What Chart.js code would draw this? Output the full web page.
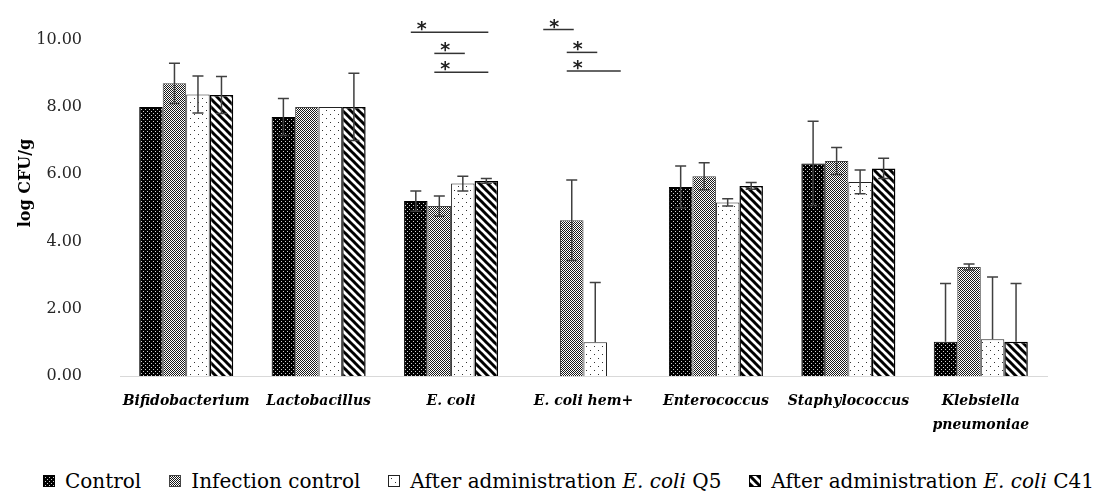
<!DOCTYPE html>
<html>
<head>
<meta charset="utf-8">
<script src="https://cdn.jsdelivr.net/npm/chart.js@4.4.0/dist/chart.umd.min.js"></script>
<style>
  body { margin: 0; background: #fff; }
  #wrap { position: relative; width: 1094px; height: 492px; overflow: hidden; }
  #chart-box { position: absolute; left: 0; top: 0; width: 1094px; height: 445px; }
  #legend { position: absolute; left: 43px; top: 470px; display: flex; align-items: center;
            font: 20px 'DejaVu Serif', serif; line-height: 22px; color: #000; white-space: nowrap; }
  .item { display: flex; align-items: center; margin-right: 28px; }
  .swatch { width: 12px; height: 12px; box-sizing: border-box; border: 1px solid #222; margin-right: 10px; }
</style>
</head>
<body>
<div id="wrap">
  <div id="chart-box"><canvas id="barChart"></canvas></div>
  <div id="legend"></div>
</div>
<script>
// Data (log CFU/g)
const categories = ['Bifidobacterium', 'Lactobacillus', 'E. coli', 'E. coli hem+', 'Enterococcus', 'Staphylococcus', ['Klebsiella', 'pneumoniae']];
const seriesNames = ['Control', 'Infection control', 'After administration E. coli Q5', 'After administration E. coli C41'];

const controlValues   = [8.00, 7.70, 5.20, 0,    5.62, 6.32, 1.02];
const infectionValues = [8.70, 8.00, 5.05, 4.63, 5.94, 6.39, 3.24];
const q5Values        = [8.37, 8.00, 5.72, 1.00, 5.16, 5.77, 1.09];
const c41Values       = [8.35, 8.00, 5.80, 0,    5.65, 6.17, 1.02];

const controlErr   = [0,    0.55, 0.30, 0,    0.62, 1.25, 1.73];
const infectionErr = [0.60, 0,    0.30, 1.20, 0.40, 0.40, 0.09];
const q5Err        = [0.55, 0,    0.22, 1.78, 0.11, 0.35, 1.85];
const c41Err       = [0.55, 1.00, 0.07, 0,    0.10, 0.30, 1.73];

const yTicks = [0, 2, 4, 6, 8, 10];

// significance brackets: category, from series, to series, height (log CFU/g)
const brackets = [
  { cat: 2, from: 0, to: 3, level: 10.22 },
  { cat: 2, from: 1, to: 2, level: 9.59 },
  { cat: 2, from: 1, to: 3, level: 9.03 },
  { cat: 3, from: 0, to: 1, level: 10.30 },
  { cat: 3, from: 1, to: 2, level: 9.62 },
  { cat: 3, from: 1, to: 3, level: 9.07 }
];

// Pattern tiles (Excel-like fills)
function makeTile(kind) {
  const c = document.createElement('canvas');
  const g = c.getContext('2d');
  if (kind === 'control') {
    c.width = 4; c.height = 4;
    g.fillStyle = '#000'; g.fillRect(0, 0, 4, 4);
    g.fillStyle = '#d0d0d0'; g.fillRect(1, 1, 1, 1); g.fillRect(3, 3, 1, 1);
  } else if (kind === 'infection') {
    c.width = 2; c.height = 2;
    g.fillStyle = '#fff'; g.fillRect(0, 0, 2, 2);
    g.fillStyle = '#1a1a1a'; g.fillRect(0, 0, 1, 1); g.fillRect(1, 1, 1, 1);
  } else if (kind === 'q5') {
    c.width = 8; c.height = 8;
    g.fillStyle = '#fff'; g.fillRect(0, 0, 8, 8);
    g.fillStyle = '#333'; g.fillRect(2, 2, 1, 1); g.fillRect(6, 6, 1, 1);
  } else {
    c.width = 8; c.height = 8;
    g.fillStyle = '#fff'; g.fillRect(0, 0, 8, 8);
    g.strokeStyle = '#000'; g.lineWidth = 3;
    [-8, 0, 8].forEach(k => {
      g.beginPath(); g.moveTo(k - 1, -1); g.lineTo(k + 9, 9); g.stroke();
    });
  }
  return c;
}

const tiles = ['control', 'infection', 'q5', 'c41'].map(makeTile);
const ctx = document.getElementById('barChart').getContext('2d');
const patterns = tiles.map(t => ctx.createPattern(t, 'repeat'));

const seriesValues = [controlValues, infectionValues, q5Values, c41Values];
const seriesErr = [controlErr, infectionErr, q5Err, c41Err];
const borderColors = ['#000', '#444', '#222', '#000'];
const borderWidths = [1, 1, 1, 1.5];

// HTML legend (keeps the italic species name)
const legendEl = document.getElementById('legend');
seriesNames.forEach((name, i) => {
  const item = document.createElement('div');
  item.className = 'item';
  const sw = document.createElement('span');
  sw.className = 'swatch';
  sw.style.backgroundImage = `url(${tiles[i].toDataURL()})`;
  sw.style.borderColor = borderColors[i];
  const label = document.createElement('span');
  label.innerHTML = name.replace('E. coli', '<i>E. coli</i>');
  item.appendChild(sw);
  item.appendChild(label);
  legendEl.appendChild(item);
});

// Error bars
const errorBars = {
  id: 'errorBars',
  afterDatasetsDraw(chart) {
    const y = chart.scales.y;
    const c = chart.ctx;
    c.save();
    c.strokeStyle = '#404040';
    c.lineWidth = 1.5;
    chart.data.datasets.forEach((ds, i) => {
      const meta = chart.getDatasetMeta(i);
      meta.data.forEach((bar, j) => {
        const v = ds.data[j];
        const e = seriesErr[i][j];
        if (!e) return;
        const top = y.getPixelForValue(v + e);
        const hasLow = v - e >= 0;
        const low = hasLow ? y.getPixelForValue(v - e) : bar.y;
        c.beginPath();
        c.moveTo(bar.x, low); c.lineTo(bar.x, top);
        c.moveTo(bar.x - 5.5, top); c.lineTo(bar.x + 5.5, top);
        if (hasLow) { c.moveTo(bar.x - 5.5, low); c.lineTo(bar.x + 5.5, low); }
        c.stroke();
      });
    });
    c.restore();
  }
};

// Significance lines with asterisks
const sigMarks = {
  id: 'sigMarks',
  afterDatasetsDraw(chart) {
    const y = chart.scales.y;
    const c = chart.ctx;
    c.save();
    c.strokeStyle = '#333';
    c.lineWidth = 1.5;
    c.fillStyle = '#222';
    c.font = 'bold 19px "DejaVu Sans"';
    c.textAlign = 'center';
    c.textBaseline = 'alphabetic';
    brackets.forEach(b => {
      const a = chart.getDatasetMeta(b.from).data[b.cat];
      const z = chart.getDatasetMeta(b.to).data[b.cat];
      const yy = y.getPixelForValue(b.level);
      c.beginPath();
      c.moveTo(a.x - 5, yy); c.lineTo(z.x + 2, yy);
      c.stroke();
      c.fillText('*', a.x + 6, yy + 3);
    });
    c.restore();
  }
};

// Rotated y-axis title, placed as in the figure
const yTitle = {
  id: 'yTitle',
  afterDraw(chart) {
    const c = chart.ctx;
    c.save();
    c.translate(26, 183);
    c.rotate(-Math.PI / 2);
    c.font = 'bold 16px "DejaVu Serif"';
    c.fillStyle = '#000';
    c.textAlign = 'center';
    c.textBaseline = 'middle';
    c.fillText('log CFU/g', 0, 0);
    c.restore();
  }
};

new Chart(ctx, {
  type: 'bar',
  data: {
    labels: categories,
    datasets: seriesNames.map((name, i) => ({
      label: name,
      data: seriesValues[i],
      backgroundColor: patterns[i],
      borderColor: borderColors[i],
      borderWidth: borderWidths[i],
      categoryPercentage: 0.71,
      barPercentage: 1.0
    }))
  },
  options: {
    responsive: true,
    maintainAspectRatio: false,
    animation: false,
    layout: { padding: { left: 0, right: 47, top: 39, bottom: 0 } },
    plugins: {
      legend: { display: false },
      tooltip: { enabled: false }
    },
    scales: {
      x: {
        grid: { display: true, drawOnChartArea: false, drawTicks: false },
        border: { display: true, color: '#d9d9d9', width: 1 },
        ticks: {
          color: '#000',
          padding: 13,
          maxRotation: 0,
          autoSkip: false,
          font: { family: '"DejaVu Serif"', size: 14, style: 'italic', weight: 'bold', lineHeight: 1.75 }
        },
        afterFit: s => { s.height = 69; }
      },
      y: {
        min: 0,
        max: 10,
        grid: { display: false },
        border: { display: false },
        afterBuildTicks: s => { s.ticks = yTicks.map(v => ({ value: v })); },
        ticks: {
          color: '#262626',
          padding: 30,
          font: { family: '"DejaVu Serif"', size: 16 },
          callback: v => v.toFixed(2)
        },
        afterFit: s => { s.width = 120; }
      }
    }
  },
  plugins: [errorBars, sigMarks, yTitle]
});
</script>
</body>
</html>
